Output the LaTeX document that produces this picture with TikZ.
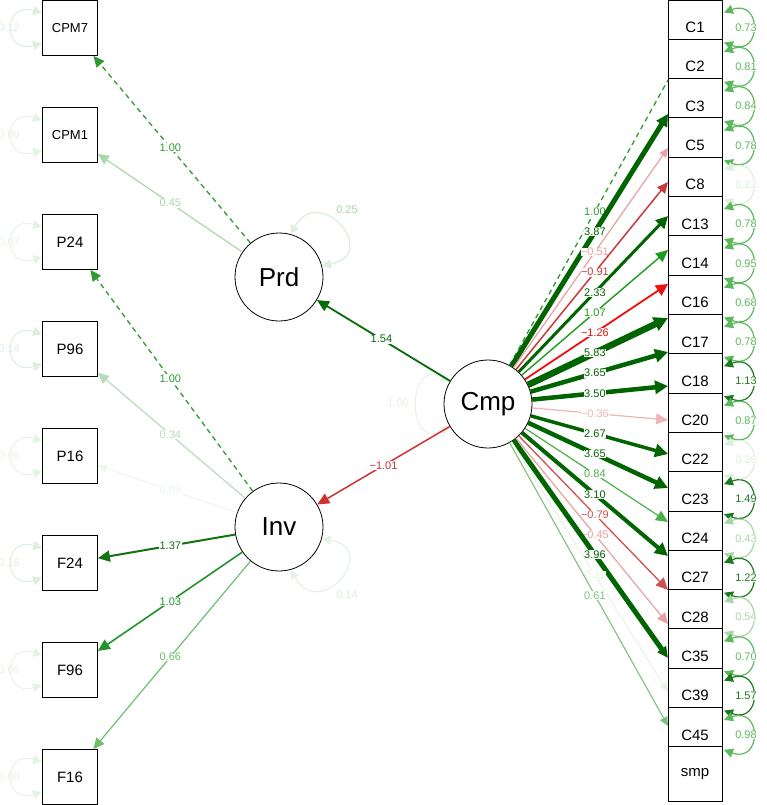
\documentclass[tikz,border=0pt]{standalone}
\usepackage{fontspec}
\setmainfont{Liberation Sans}
\usetikzlibrary{arrows.meta,calc}
\definecolor{G}{HTML}{006400}
\definecolor{gD}{HTML}{2E9B2E}
\definecolor{gM}{HTML}{1E9B1E}
\definecolor{gL}{HTML}{4CAF4C}
\definecolor{gXL}{HTML}{7DC07D}
\definecolor{gF}{HTML}{DCEEDC}
\definecolor{gFF}{HTML}{E6F2E6}
\definecolor{rS}{HTML}{F01010}
\definecolor{rM}{HTML}{C83A3A}
\definecolor{rM2}{HTML}{D05050}
\definecolor{rL}{HTML}{E8A0A0}
\definecolor{rXL}{HTML}{F0B4B4}
\definecolor{l45}{HTML}{A8D8A8}
\definecolor{l34}{HTML}{B8DCB8}
\definecolor{l09}{HTML}{ECF4EC}
\definecolor{l137}{HTML}{117311}
\definecolor{l103}{HTML}{22952A}
\definecolor{l66}{HTML}{6DBE6D}
\definecolor{v1}{HTML}{5DB85D}
\definecolor{v2}{HTML}{1E7A1E}
\definecolor{v3}{HTML}{A8D6A8}
\definecolor{v4}{HTML}{DDEEDD}
\tikzset{
  obs/.style={draw,fill=white,line width=0.8pt,minimum width=55pt,minimum height=55pt,inner sep=0pt,font=\fontsize{15}{15}\selectfont},
  obsr/.style={draw,fill=white,line width=0.8pt,minimum width=54pt,minimum height=55pt,inner sep=0pt,font=\fontsize{15}{15}\selectfont},
  lat/.style={draw,circle,fill=white,line width=0.8pt,minimum size=88pt,inner sep=0pt,font=\fontsize{26}{26}\selectfont},
  elab/.style={fill=white,inner sep=0.5pt,font=\fontsize{11}{11}\selectfont},
  dsh/.style={dashed,dash pattern=on 5pt off 4pt},
  a8/.style={-{Triangle[length=9pt,width=8pt]}},
  a10/.style={-{Triangle[length=11pt,width=10pt]}},
  a11/.style={-{Triangle[length=12pt,width=11pt]}},
  a12/.style={-{Triangle[length=12pt,width=12pt]}},
  a13/.style={-{Triangle[length=13pt,width=13pt]}},
  a14/.style={-{Triangle[length=14pt,width=14pt]}},
  vloop/.style={{Triangle[length=9pt,width=9pt]}-{Triangle[length=9pt,width=9pt]}},
}
\begin{document}
\begin{tikzpicture}[x=1pt,y=1pt]
\useasboundingbox (0,0) rectangle (766,-805);
% left boxes
\node[obs,font=\fontsize{13}{13}\selectfont] (cpm7) at (70,-28) {CPM7};
\node[obs,font=\fontsize{13}{13}\selectfont] (cpm1) at (70,-135) {CPM1};
\node[obs] (p24) at (70,-242) {P24};
\node[obs] (p96) at (70,-349) {P96};
\node[obs] (p16) at (70,-456) {P16};
\node[obs] (f24) at (70,-563) {F24};
\node[obs] (f96) at (70,-670) {F96};
\node[obs] (f16) at (70,-777) {F16};
% left residual loops
\foreach \n/\v/\c in {cpm7/0.12/gF,cpm1/0.09/gFF,p24/0.07/gFF,p96/0.14/gF,p16/0.06/gFF,f24/0.15/gF,f96/0.06/gFF,f16/0.08/gFF}{
  \draw[\c,line width=1pt,vloop]
    ($(\n.west)+(0,15)$) .. controls +(-40,12) and +(-40,-12) .. ($(\n.west)+(0,-15)$);
  \node[text=\c,font=\fontsize{11}{11}\selectfont] at ($(\n.west)+(-33,0)$) {\v};
}
% right boxes
\foreach \t [count=\i from 0] in {C1,C2,C3,C5,C8,C13,C14,C16,C17,C18,C20,C22,C23,C24,C27,C28,C35,C39,C45,smp}{
  \node[obsr] (r\i) at (695,{-(39.3*\i+27.5)}) {\t};
}
% right residual loops
\foreach \v/\c [count=\i from 0] in {0.73/v1,0.81/v1,0.84/v1,0.78/v1,0.22/v4,0.78/v1,0.95/v1,0.68/v1,0.78/v1,1.13/v2,0.87/v1,0.26/v4,1.49/v2,0.43/v3,1.22/v2,0.54/v3,0.70/v1,1.57/v2,0.98/v1}{
  \coordinate (lt\i) at (724,{-(39.3*\i+27.5)+15});
  \coordinate (lb\i) at (724,{-(39.3*\i+27.5)-15});
  \draw[\c,line width=1.2pt,vloop]
    (lt\i) .. controls +(38,14) and +(38,-14) .. (lb\i);
  \node[elab,text=\c] at (746,{-(39.3*\i+27.5)}) {\v};
}
% latents
\node[lat] (prd) at (279,-277) {Prd};
\node[lat] (inv) at (279,-527) {Inv};
\node[lat] (cmp) at (488,-404) {Cmp};
% latent loops
\draw[gF,line width=1.3pt,vloop]
  (prd.75) .. controls +(60:60) and +(10:60) .. (prd.15);
\node[elab,text=gF!70!gD] at (347,-210) {0.25};
\draw[gFF,line width=1.3pt,vloop]
  (inv.-75) .. controls +(-60:60) and +(-10:60) .. (inv.-15);
\node[elab,text=gF] at (347,-595) {0.14};
\draw[gFF,line width=1pt,vloop]
  (cmp.150) .. controls +(150:50) and +(210:50) .. (cmp.210);
\node[text=gFF,font=\fontsize{11}{11}\selectfont] at (398,-403) {1.00};
% left loadings
\newcommand\lload[6]{%
  \draw[#3,line width=#4,#5] (#1) -- (#2);
  \path (#1.center) -- (#2.center) node[elab,text=#3,pos=0.52] {#6};}
\lload{prd}{cpm7}{gD}{1.3pt}{dsh,a10}{1.00}
\lload{prd}{cpm1}{l45}{1.2pt}{a10}{0.45}
\lload{inv}{p24}{gD}{1.3pt}{dsh,a10}{1.00}
\lload{inv}{p96}{l34}{1.2pt}{a10}{0.34}
\lload{inv}{p16}{l09}{1pt}{a8}{0.09}
\lload{inv}{f24}{l137}{2pt}{a11}{1.37}
\lload{inv}{f96}{l103}{1.6pt}{a11}{1.03}
\lload{inv}{f16}{l66}{1.2pt}{a10}{0.66}
% structural
\draw[G!85!gD,line width=1.8pt,a11] (cmp) -- (prd);
\path (cmp.center) -- (prd.center) node[elab,text=G!85!gD,pos=0.51] {1.54};
\draw[rM!80!rS,line width=1.5pt,a11] (cmp) -- (inv);
\path (cmp.center) -- (inv.center) node[elab,text=rM!80!rS,pos=0.5] {−1.01};
% right loadings
\foreach \v/\c/\w/\s [count=\k from 0] in {
  1.00/gD/1.3/dsh,
  3.87/G/5/a12,
  −0.51/rL/1.2/a8,
  −0.91/rM/1.5/a10,
  2.33/G/3/a12,
  1.07/gM/1.4/a11,
  −1.26/rS/1.8/a12,
  5.83/G/6.5/a14,
  3.65/G/4.5/a13,
  3.50/G/4.5/a13,
  −0.36/rXL/1.2/a11,
  2.67/G/3.5/a13,
  3.65/G/4.5/a13,
  0.84/gL/1.2/a11,
  3.10/G/4/a13,
  −0.79/rM2/1.3/a11,
  −0.45/rL/1.2/a10,
  3.96/G/5/a10,
  0.11/gFF/1/a8,
  0.61/gXL/1.1/a8}{
  \coordinate (e\k) at (668,{-(80+34*\k)});
  \draw[\c,line width=\w pt,\s] (cmp) -- (e\k);
  \path (cmp.center) -- (e\k) node[elab,text=\c,pos=0.594] {\v};
}
\end{tikzpicture}
\end{document}
